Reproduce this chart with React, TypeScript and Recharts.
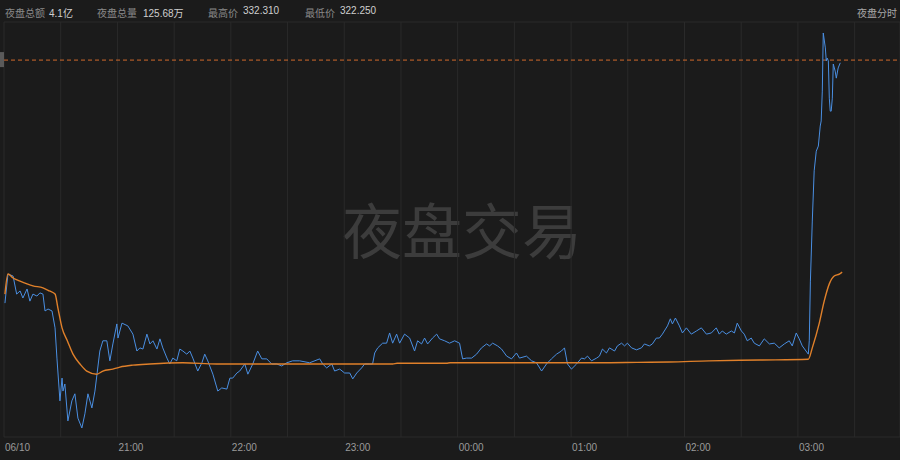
import React from "react";
import { LineChart, Line, XAxis, YAxis, CartesianGrid, ReferenceLine } from "recharts";

// minutes after 20:00 on 06/10
const priceTimes = [
  0.5, 2.1, 4.8, 6.7, 8.5, 10, 12.2, 13.7, 15.3, 17.4, 19, 20.6, 21.7, 23.3, 25.4, 27, 28, 29.6, 30.7, 31.2,
  32.2, 33.8, 35.9, 37.5, 39.1, 41.2, 42.8, 44.4, 46.5, 48.1, 50.7, 52.3, 54.4, 56, 57.6, 59.7, 60.3, 62.4,
  65.5, 68.2, 70.3, 71.9, 73.5, 75.6, 77.2, 78.8, 80.9, 82.5, 84, 86.2, 87.7, 89.3, 91.4, 93, 94.6, 96.7,
  98.3, 99.9, 102.5, 104.7, 106.2, 107.8, 110.5, 113.1, 115.2, 117.9, 119.5, 121, 123.2, 124.7, 127.4, 129,
  131.6, 134.2, 136.4, 139, 141.6, 144.3, 146.9, 149.6, 152.7, 156.4, 161.7, 167, 168.6, 170.7, 173.4, 174.9,
  177.6, 180.2, 182.9, 184.5, 186.6, 189.2, 190.8, 193.4, 195, 196.1, 197.7, 200.3, 202.4, 204, 205.6, 207.7,
  209.3, 211.9, 214.6, 217.2, 218.8, 220.9, 222.5, 224.1, 226.7, 228.9, 230.4, 233.1, 235.7, 238.4, 241,
  242.6, 244.7, 247.4, 250, 252.6, 255.3, 256.9, 258.5, 261.1, 263.2, 265.9, 268.5, 271.1, 272.7, 276.4,
  279.1, 281.7, 284.4, 287, 289.6, 292.3, 294.9, 296.5, 298.1, 300.2, 302.9, 305.5, 307.1, 308.7, 310.8,
  313.5, 315, 316.6, 318.7, 320.3, 323, 324.5, 326.7, 328.3, 329.8, 332, 334.6, 337.2, 338.8, 341.4, 343,
  345.1, 346.7, 348.3, 351, 352.5, 353.6, 355.2, 357.3, 358.9, 361, 363.6, 366.3, 368.9, 371.6, 374.2, 376.8,
  378.4, 380, 382.1, 384.8, 386.4, 387.9, 390.1, 391.6, 393.2, 395.3, 396.9, 399.6, 402.2, 404.9, 407.5,
  410.1, 412.8, 415.4, 417, 419.1, 420.7, 422.3, 425.5, 426, 426.6, 427.6, 428.6, 429.7, 430.8, 431.8, 432.3,
  432.9, 433.4, 434.5, 435, 435.5, 436.1, 436.6, 437.1, 437.6, 438.2, 438.7, 439.7, 440.3, 441.3, 442.4,
];

const priceValues = [
  325.43, 326.17, 326.12, 325.66, 325.74, 325.56, 325.79, 325.48, 325.66, 325.61, 325.69, 325.66, 325.23,
  325.28, 325.23, 324.8, 324.03, 322.94, 323.52, 323.19, 323.37, 322.43, 322.94, 323.12, 322.5, 322.25,
  322.61, 323.12, 322.76, 323.19, 324.21, 324.47, 324.47, 323.96, 324.39, 324.9, 324.54, 324.92, 324.85,
  324.64, 324.21, 324.29, 324.26, 324.64, 324.39, 324.47, 324.26, 324.52, 324.29, 324.03, 323.88, 324.03,
  323.96, 324.26, 324.21, 324.13, 324.21, 324.03, 323.7, 323.91, 324.13, 323.96, 323.62, 323.19, 323.27,
  323.24, 323.52, 323.52, 323.65, 323.7, 323.88, 323.62, 323.88, 324.21, 324.01, 324.01, 323.88, 323.88,
  323.83, 323.91, 323.96, 323.96, 323.91, 324.01, 323.88, 323.78, 323.88, 323.7, 323.75, 323.65, 323.65,
  323.5, 323.65, 323.78, 323.88, 323.88, 323.88, 324.16, 324.29, 324.41, 324.41, 324.67, 324.41, 324.64,
  324.41, 324.64, 324.54, 324.21, 324.47, 324.39, 324.54, 324.39, 324.54, 324.64, 324.52, 324.47, 324.41,
  324.47, 324.41, 324.01, 324.03, 324.03, 324.13, 324.29, 324.39, 324.34, 324.41, 324.34, 324.26, 324.08,
  324.01, 324.16, 324.03, 324.08, 323.96, 323.91, 323.7, 323.88, 324.01, 324.13, 324.21, 324.29, 323.88,
  323.75, 323.88, 324.03, 324.01, 324.08, 323.96, 324.03, 324.08, 324.26, 324.16, 324.29, 324.21, 324.34,
  324.41, 324.34, 324.41, 324.29, 324.24, 324.29, 324.39, 324.34, 324.39, 324.54, 324.54, 324.64, 324.85,
  325.03, 324.9, 325.05, 324.85, 324.67, 324.8, 324.64, 324.72, 324.8, 324.64, 324.67, 324.8, 324.64,
  324.72, 324.64, 324.72, 324.67, 324.92, 324.72, 324.64, 324.47, 324.54, 324.41, 324.34, 324.52, 324.39,
  324.41, 324.29, 324.39, 324.47, 324.34, 324.67, 324.52, 324.34, 324.13, 324.47, 325.99, 327.52, 328.8,
  329.3, 329.43, 329.94, 330.07, 330.83, 332.31, 331.93, 331.6, 331.67, 331.6, 330.65, 330.32, 330.32,
  330.65, 331.52, 331.34, 331.16, 331.42, 331.55,
];

const avgTimes = [
  0.5, 2.1, 4.8, 8.5, 12.2, 15.3, 20.6, 24, 27, 28.5, 30.7, 33.5, 36.5, 40.2, 43.8, 49.1, 52.3, 57.6, 61.3,
  68.2, 77.2, 94.6, 112.6, 156.4, 205.6, 208, 234, 236, 315, 335, 352, 373, 400, 425.5, 427.6, 431.3, 433.9,
  436.6, 439.2, 441.9, 443.4,
];

const avgValues = [
  325.66, 326.17, 326.07, 325.99, 325.92, 325.87, 325.82, 325.74, 325.66, 325.31, 324.8, 324.47, 324.13,
  323.88, 323.7, 323.62, 323.7, 323.75, 323.8, 323.85, 323.88, 323.91, 323.88, 323.88, 323.88, 323.9, 323.9,
  323.91, 323.91, 323.92, 323.93, 323.96, 323.98, 324.0, 324.29, 324.92, 325.48, 325.92, 326.12, 326.17,
  326.22,
];

const tickMinutes = [0, 60, 120, 180, 240, 300, 360, 420];
const tickLabels = ["06/10", "21:00", "22:00", "23:00", "00:00", "01:00", "02:00", "03:00"];

const highPrice = 332.31;
const lowPrice = 322.25;
const refPrice = 331.62;

const headerItems = [
  { label: "夜盘总额", value: "4.1亿", x: 5, vx: 49 },
  { label: "夜盘总量", value: "125.68万", x: 97, vx: 143 },
  { label: "最高价", value: "332.310", x: 208, vx: 243 },
  { label: "最低价", value: "322.250", x: 305, vx: 340 },
];

const font = '"Liberation Sans", "Noto Sans CJK SC", sans-serif';

// merge both series onto one time axis
const rowMap = new Map<number, { t: number; price?: number; avg?: number }>();
priceTimes.forEach((t, i) => {
  const r = rowMap.get(t) || { t };
  r.price = priceValues[i];
  rowMap.set(t, r);
});
avgTimes.forEach((t, i) => {
  const r = rowMap.get(t) || { t };
  r.avg = avgValues[i];
  rowMap.set(t, r);
});
const data = Array.from(rowMap.values()).sort((a, b) => a.t - b.t);

const gridTicks = Array.from({ length: 19 }, (_, i) => lowPrice + ((highPrice - lowPrice) * i) / 18);
const xGrid = Array.from({ length: 16 }, (_, i) => i * 30);

const TimeTick = (props: any) => {
  const { x, y, payload } = props;
  const idx = tickMinutes.indexOf(payload.value);
  if (idx < 0) return null;
  return (
    <text x={x + 1} y={y + 6} fill="#9a9a9a" fontSize={10} fontFamily={font} textAnchor="start">
      {tickLabels[idx]}
    </text>
  );
};

const RefTag = (props: any) => {
  const vb = props.viewBox || {};
  return <rect x={vb.x - 4} y={vb.y - 8} width={4} height={15} fill="#5a5a5a" />;
};

export default function App() {
  return (
    <div
      style={{
        position: "fixed",
        left: 0,
        top: 0,
        width: 900,
        height: 460,
        background: "#1b1b1b",
        overflow: "hidden",
        fontFamily: font,
      }}
    >
      {headerItems.map((h) => (
        <React.Fragment key={h.label}>
          <span style={{ position: "absolute", left: h.x, top: 5, fontSize: 10, color: "#8a8a8a" }}>{h.label}</span>
          <span style={{ position: "absolute", left: h.vx, top: 5, fontSize: 10, color: "#cfcfcf" }}>{h.value}</span>
        </React.Fragment>
      ))}
      <span style={{ position: "absolute", right: 3, top: 5, fontSize: 10, color: "#a8a8a8" }}>夜盘分时</span>
      <div
        style={{
          position: "absolute",
          left: 342,
          top: 190,
          fontSize: 60,
          lineHeight: "76px",
          color: "#3c3c3c",
          fontFamily: '"Noto Sans CJK SC", sans-serif',
          whiteSpace: "nowrap",
        }}
      >
        夜盘交易
      </div>
      <div style={{ position: "absolute", left: 0, top: 0 }}>
        <LineChart width={900} height={460} data={data} margin={{ top: 22, right: 0, bottom: 0, left: 4 }}>
          <CartesianGrid stroke="#2a2a2a" strokeWidth={1} />
          <XAxis
            type="number"
            dataKey="t"
            domain={[0, 474]}
            ticks={xGrid}
            tick={<TimeTick />}
            axisLine={false}
            tickLine={false}
            height={23}
            interval={0}
          />
          <YAxis
            type="number"
            domain={[lowPrice - 0.23, highPrice + 0.28]}
            ticks={gridTicks}
            tick={false}
            axisLine={false}
            tickLine={false}
            width={0}
          />
          <ReferenceLine
            y={refPrice}
            stroke="#d06a2c"
            strokeDasharray="4 3"
            ifOverflow="visible"
            label={<RefTag />}
          />
          <Line
            type="linear"
            dataKey="price"
            stroke="#4a8fe2"
            strokeWidth={1}
            dot={false}
            connectNulls
            isAnimationActive={false}
          />
          <Line
            type="monotone"
            dataKey="avg"
            stroke="#e0802a"
            strokeWidth={1.4}
            dot={false}
            connectNulls
            isAnimationActive={false}
          />
        </LineChart>
      </div>
    </div>
  );
}
